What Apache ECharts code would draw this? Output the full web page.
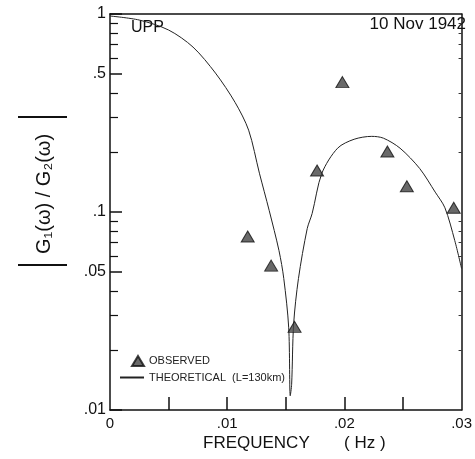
<!DOCTYPE html>
<html>
<head>
<meta charset="utf-8">
<script src="https://cdn.jsdelivr.net/npm/echarts@6/dist/echarts.min.js"></script>
<style>
  html, body { margin: 0; padding: 0; background: #fff; }
  #chart { width: 475px; height: 459px; }
</style>
</head>
<body>
<div id="chart"></div>
<script>
// observed ratio |G1/G2| vs frequency (Hz)
const freqObs = [0.01175, 0.01375, 0.01575, 0.01767, 0.01983, 0.02367, 0.02533, 0.02933]
const ampObs = [0.0752, 0.0536, 0.0263, 0.162, 0.453, 0.202, 0.135, 0.105]

// theoretical curve (L=130km)
const freqTheo = [0, 0.0025, 0.005, 0.00708, 0.009, 0.01067, 0.01183, 0.01275, 0.01358, 0.01442,
  0.01483, 0.01525, 0.01538, 0.0155, 0.01567, 0.01608, 0.01683, 0.01725, 0.01808, 0.01942,
  0.02083, 0.02233, 0.02333, 0.02475, 0.02642, 0.02775, 0.02858, 0.02942, 0.030]
const ampTheo = [0.977, 0.932, 0.830, 0.681, 0.503, 0.358, 0.259, 0.157, 0.102, 0.0638,
  0.0461, 0.0260, 0.0118, 0.0135, 0.0272, 0.0461, 0.0825, 0.0983, 0.157, 0.210,
  0.233, 0.241, 0.236, 0.210, 0.166, 0.126, 0.105, 0.0717, 0.0518]

const xLabelValues = [0, 0.01, 0.02, 0.03]
const xLabelTexts = ['0', '.01', '.02', '.03']
const xTickValues = [0.005, 0.01, 0.015, 0.02, 0.025]
const yLabelValues = [0.01, 0.05, 0.1, 0.5, 1]
const yLabelTexts = ['.01', '.05', '.1', '.5', '1']
const yMinorTicks = [0.02, 0.03, 0.04, 0.06, 0.07, 0.08, 0.09,
  0.2, 0.3, 0.4, 0.6, 0.7, 0.8, 0.9]

const font = 'Liberation Sans, Arial, sans-serif'
const chart = echarts.init(document.getElementById('chart'))

const pickLabel = (vals, texts) => v => {
  const i = vals.findIndex(a => Math.abs(a - v) < 1e-9)
  return i < 0 ? '' : texts[i]
}

// the tall |...| bars of the y title, drawn as thin stretched glyphs
const titleBar = y => ({
  type: 'text', x: 42, y: y, rotation: Math.PI / 2, scaleX: 0.45,
  style: { text: '|', align: 'center', verticalAlign: 'middle', font: '52px ' + font, fill: '#111' }
})

const legendText = { fontFamily: font, fontSize: 11, color: '#222' }

chart.setOption({
  animation: false,
  grid: { left: 110, right: 4, top: 14, bottom: 49 },
  legend: [{
    left: 126, top: 350, itemWidth: 12, itemHeight: 10,
    textStyle: legendText,
    data: ['OBSERVED']
  }, {
    left: 114, top: 367, itemWidth: 24, itemHeight: 10,
    textStyle: legendText,
    data: [{ name: 'THEORETICAL  (L=130km)', itemStyle: { color: 'transparent', borderWidth: 0 } }]
  }],
  xAxis: [{
    type: 'value', min: 0, max: 0.03,
    axisLine: { lineStyle: { color: '#111', width: 1.5 } },
    axisTick: { inside: true, length: 13, customValues: xTickValues, lineStyle: { color: '#111', width: 1.5 } },
    axisLabel: {
      customValues: xLabelValues, formatter: pickLabel(xLabelValues, xLabelTexts),
      fontFamily: font, fontSize: 15, color: '#111', margin: 6
    },
    splitLine: { show: false }
  }, {
    type: 'value', min: 0, max: 0.03, position: 'top',
    axisLine: { lineStyle: { color: '#111', width: 1.5 } },
    axisTick: { show: false }, axisLabel: { show: false }, splitLine: { show: false }
  }],
  yAxis: [{
    type: 'log', logBase: 10, min: 0.01, max: 1,
    axisLine: { show: true, lineStyle: { color: '#111', width: 1.5 } },
    axisTick: { inside: true, length: 8, customValues: yMinorTicks, lineStyle: { color: '#111', width: 1.2 } },
    axisLabel: {
      customValues: yLabelValues, formatter: pickLabel(yLabelValues, yLabelTexts),
      fontFamily: font, fontSize: 16, color: '#111', margin: 4
    },
    splitLine: { show: false }
  }, {
    type: 'log', logBase: 10, min: 0.01, max: 1, position: 'left',
    axisLine: { show: false },
    axisTick: { inside: true, length: 12, customValues: yLabelValues, lineStyle: { color: '#111', width: 1.5 } },
    axisLabel: { show: false }, splitLine: { show: false }
  }, {
    type: 'log', logBase: 10, min: 0.01, max: 1, position: 'right',
    axisLine: { show: true, lineStyle: { color: '#111', width: 1.5 } },
    axisTick: { inside: true, length: 3, customValues: yMinorTicks, lineStyle: { color: '#333', width: 1 } },
    axisLabel: { show: false }, splitLine: { show: false }
  }],
  graphic: [
    { type: 'text', left: 131, top: 20, style: { text: 'UPP', font: '16px ' + font, fill: '#111' } },
    { type: 'text', right: 9, top: 16, style: { text: '10 Nov 1942', font: '17px ' + font, fill: '#111' } },
    { type: 'text', left: 203, top: 435, style: { text: 'FREQUENCY', font: '17px ' + font, fill: '#111' } },
    { type: 'text', left: 344, top: 435, style: { text: '( Hz )', font: '17px ' + font, fill: '#111' } },
    {
      type: 'text', x: 44, y: 194, rotation: Math.PI / 2,
      style: {
        text: 'G₁(ω) / G₂(ω)',
        align: 'center', verticalAlign: 'middle',
        font: '20px ' + font, fill: '#111'
      }
    },
    titleBar(117),
    titleBar(265)
  ],
  series: [{
    name: 'THEORETICAL  (L=130km)',
    type: 'line',
    xAxisIndex: 0, yAxisIndex: 0,
    data: freqTheo.map((f, i) => [f, ampTheo[i]]),
    smooth: 0.3,
    symbol: 'none',
    lineStyle: { color: '#222', width: 1 },
    itemStyle: { color: '#222' }
  }, {
    name: 'OBSERVED',
    type: 'scatter',
    xAxisIndex: 0, yAxisIndex: 0,
    data: freqObs.map((f, i) => [f, ampObs[i]]),
    symbol: 'triangle',
    symbolSize: [13, 11],
    itemStyle: { color: '#444', borderColor: '#111', borderWidth: 1 },
    z: 5
  }]
})
</script>
</body>
</html>
